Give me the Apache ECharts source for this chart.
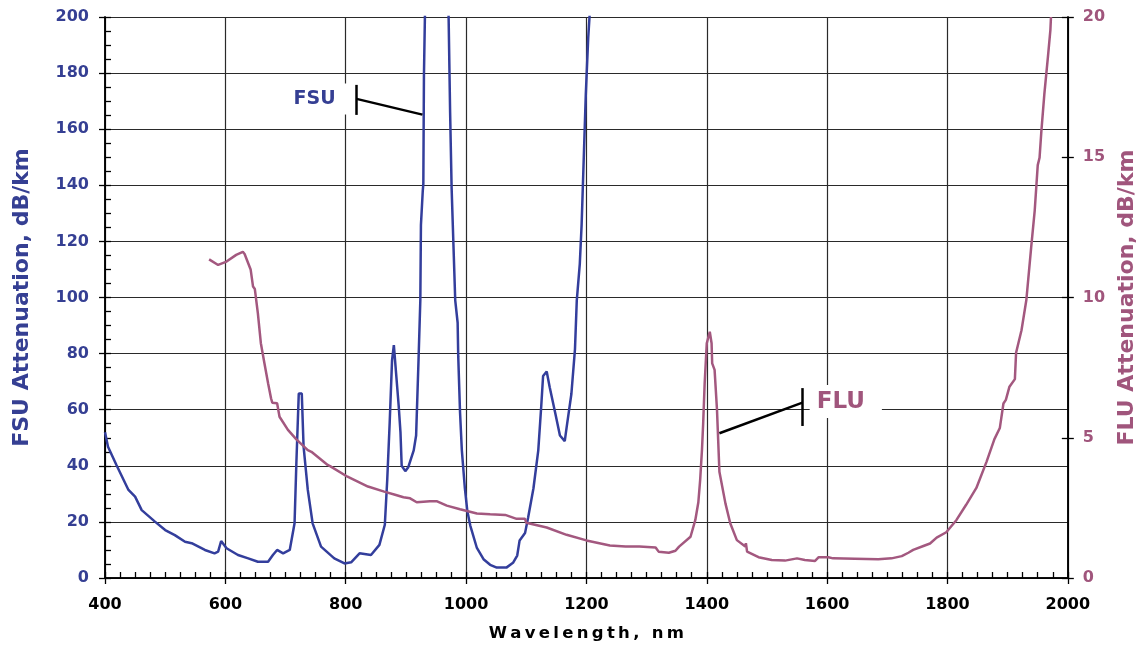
<!DOCTYPE html>
<html>
<head>
<meta charset="utf-8">
<script src="https://cdn.jsdelivr.net/npm/echarts@6/dist/echarts.min.js"></script>
<style>
html,body{margin:0;padding:0;background:#fff;}
#chart{width:1146px;height:651px;}
</style>
</head>
<body>
<div id="chart"></div>
<script>
// ---- Data ----
const xTickLabels = [400, 600, 800, 1000, 1200, 1400, 1600, 1800, 2000];
const fsuTicks = [0, 20, 40, 60, 80, 100, 120, 140, 160, 180, 200];
const fluTicks = [0, 5, 10, 15, 20];

// FSU fibre (left axis, dB/km)
const fsuWavelength = [400,405,419,439,450,461,483,500,516,533,544,566,582,588,593,602,621,638,654,671,679,686,696,707,715,718,722,727,730,737,745,759,781,798,809,823,842,856,865,869,873,877,880,882,888,891,893,899,904,913,917,921,924,925,928,929,930,932,951,971,973.5,976,979,982,986,987,990,993,998,1002,1007,1018,1029,1040,1051,1067,1078,1085,1089,1098,1103,1112,1120,1125,1128,1134,1139,1148,1156,1164,1167,1175,1181,1184,1189,1192,1196,1199,1203,1206];
const fsuAttenuation = [52,46.8,40.3,31.4,29,24.2,20.1,17.1,15.3,12.9,12.4,10,8.8,9.4,13.2,10.6,8.2,7,5.8,5.8,8.2,10,8.8,10,19.5,40.9,65.8,65.8,46.8,31.4,19.5,11.2,7,5.2,5.6,8.8,8.2,11.8,19,35,55,77.6,83,77.6,61.5,52,40,38.1,39.5,45.5,50.8,77.6,99,125.8,137.8,140.5,179,205,400,200,166,139,119,99,91,79,59,45.5,32,24,18.7,10.7,6.7,4.7,3.7,3.7,5.4,8,13.4,16,21.4,32,45.5,61.5,72,73.6,68,59,50.8,48.8,53.5,65.6,81.6,99,112,125.8,152.5,172.6,192.6,203];

// FLU fibre (right axis, dB/km)
const fluWavelength = [573,588,602,618,629,632,642,646,649,654,659,662,665,671,676,678,686,690,704,718,737,743,770,774,803,837,864,882,896,907,918,940,951,968,990,1018,1040,1065,1084,1098,1100,1134,1167,1200,1239,1265,1288,1315,1320,1337,1348,1354,1373,1381,1386,1389,1392,1394,1396.5,1400,1405,1408,1409,1413,1417,1421,1423,1431,1439,1450,1464,1465,1467,1486,1508,1530,1550,1563,1580,1586,1602,1610,1646,1685,1707,1724,1735,1743,1760,1771,1782,1798,1815,1831,1848,1865,1878,1887,1893,1897,1903,1912,1914,1923,1931,1939,1945,1950,1953,1956,1961,1967,1971,1972];
const fluAttenuation = [11.36,11.16,11.28,11.52,11.63,11.55,11.0,10.39,10.3,9.44,8.37,8.37,7.65,6.94,6.4,6.25,6.23,5.75,5.28,4.94,4.56,4.5,4.03,3.99,3.61,3.26,3.08,2.97,2.88,2.84,2.7,2.74,2.74,2.58,2.45,2.3,2.27,2.25,2.11,2.11,1.97,1.8,1.54,1.34,1.16,1.12,1.12,1.09,0.94,0.9,0.97,1.12,1.47,2.07,2.7,3.49,4.56,5.5,6.94,8.37,8.78,8.37,7.65,7.42,5.99,3.79,3.73,2.66,1.95,1.35,1.12,1.24,0.94,0.74,0.64,0.62,0.7,0.64,0.61,0.74,0.74,0.7,0.69,0.67,0.7,0.78,0.9,1.0,1.14,1.23,1.44,1.63,2.07,2.61,3.21,4.15,4.95,5.35,6.22,6.35,6.82,7.09,8.03,8.83,9.9,11.77,13.11,14.72,14.98,15.92,17.26,18.6,19.53,20.0];

// Annotation anchors (data coordinates)
const fsuLabelAt = [754, 170.8];
const fsuBracket = [[818, 175.8], [818, 165.1]];
const fsuLeader = [[818, 170.8], [927.5, 165.2]];
const fluLabelAt = [1631, 6.29];
const fluBracket = [[1559, 6.77], [1559, 5.42]];
const fluLeader = [[1559, 6.25], [1421, 5.16]];

const BLUE = '#333E9C';
const PINK = '#A3587F';
const BLUE_TXT = '#353F93';
const PINK_TXT = '#A0557C';
const FONT = '"DejaVu Sans", sans-serif';
const TS = '\u2009';

function zip(a, b) { return a.map((v, i) => [v, b[i]]); }
function spaced(s) { return s.split('').join(TS); }
const plain = v => String(v);

const chart = echarts.init(document.getElementById('chart'));

const gridLine = {show: true, lineStyle: {color: '#2a2a2a', width: 1.2}};
const tick = () => ({color: '#000', width: 1.3});

const option = {
  animation: false,
  backgroundColor: '#ffffff',
  grid: {left: 105, right: 76, top: 17, bottom: 73},
  xAxis: [
    {
      type: 'value', min: xTickLabels[0], max: xTickLabels[xTickLabels.length - 1], interval: 200,
      position: 'bottom',
      axisLine: {show: true, onZero: false, lineStyle: {color: '#000', width: 1.5}},
      axisTick: {show: true, inside: false, length: 6, lineStyle: tick()},
      axisLabel: {color: '#000', fontFamily: FONT, fontWeight: 'bold', fontSize: 16, margin: 19, formatter: plain},
      splitLine: gridLine,
      name: spaced('Wavelength, nm'), nameLocation: 'middle', nameGap: 47,
      nameTextStyle: {color: '#000', fontFamily: FONT, fontWeight: 'bold', fontSize: 16.5}
    },
    {
      type: 'value', min: 400, max: 2000, interval: 25, position: 'bottom',
      axisLine: {show: true, onZero: false, lineStyle: {color: '#000', width: 1.5}},
      axisLabel: {show: false}, splitLine: {show: false},
      axisTick: {show: true, inside: true, length: 6, lineStyle: tick()}
    }
  ],
  yAxis: [
    {
      type: 'value', min: fsuTicks[0], max: fsuTicks[fsuTicks.length - 1], interval: 20, position: 'left',
      axisLine: {show: true, onZero: false, lineStyle: {color: '#000', width: 1.5}},
      axisTick: {show: true, inside: false, length: 6, lineStyle: tick()},
      axisLabel: {color: BLUE_TXT, fontFamily: FONT, fontWeight: 'bold', fontSize: 16, margin: 16, formatter: plain},
      splitLine: gridLine,
      name: 'FSU Attenuation, dB/km', nameLocation: 'middle', nameGap: 72, nameRotate: 90,
      nameTextStyle: {color: BLUE_TXT, fontFamily: FONT, fontWeight: 'bold', fontSize: 22}
    },
    {
      type: 'value', min: fluTicks[0], max: fluTicks[fluTicks.length - 1], interval: 5, position: 'right',
      axisLine: {show: true, onZero: false, lineStyle: {color: '#000', width: 1.5}},
      axisTick: {show: true, inside: false, length: 6, lineStyle: tick()},
      axisLabel: {color: PINK_TXT, fontFamily: FONT, fontWeight: 'bold', fontSize: 16, margin: 15, formatter: plain},
      splitLine: {show: false},
      name: 'FLU Attenuation, dB/km', nameLocation: 'middle', nameGap: 44, nameRotate: 90,
      nameTextStyle: {color: PINK_TXT, fontFamily: FONT, fontWeight: 'bold', fontSize: 22}
    },
    {
      type: 'value', min: 0, max: 200, interval: 5, position: 'left',
      axisLine: {show: true, onZero: false, lineStyle: {color: '#000', width: 1.5}},
      axisLabel: {show: false}, splitLine: {show: false},
      axisTick: {show: true, inside: true, length: 6, lineStyle: tick()}
    },
    {
      type: 'value', min: 0, max: 20, interval: 5, position: 'right',
      axisLine: {show: true, onZero: false, lineStyle: {color: '#000', width: 1.5}},
      axisLabel: {show: false}, splitLine: {show: false},
      axisTick: {show: true, inside: true, length: 6, lineStyle: tick()}
    }
  ],
  series: [
    {
      name: 'FSU', type: 'line', xAxisIndex: 0, yAxisIndex: 0,
      data: zip(fsuWavelength, fsuAttenuation),
      showSymbol: false, symbol: 'none', clip: true,
      lineStyle: {color: BLUE, width: 2.5}, z: 3,
      markLine: {
        silent: true, symbol: ['none', 'none'], label: {show: false},
        lineStyle: {color: '#000', width: 2.5, type: 'solid'},
        data: [
          [{coord: fsuBracket[0]}, {coord: fsuBracket[1]}],
          [{coord: fsuLeader[0]}, {coord: fsuLeader[1]}]
        ]
      },
      markPoint: {
        silent: true, symbol: 'rect', symbolSize: 0,
        data: [{coord: fsuLabelAt, value: 'FSU'}],
        label: {
          show: true, position: 'inside', formatter: 'FSU',
          color: BLUE_TXT, fontFamily: FONT, fontWeight: 'bold', fontSize: 19,
          backgroundColor: '#fff', padding: [6, 13, 6, 6]
        }
      }
    },
    {
      name: 'FLU', type: 'line', xAxisIndex: 0, yAxisIndex: 1,
      data: zip(fluWavelength, fluAttenuation),
      showSymbol: false, symbol: 'none', clip: true,
      lineStyle: {color: PINK, width: 2.5}, z: 3,
      markLine: {
        silent: true, symbol: ['none', 'none'], label: {show: false},
        lineStyle: {color: '#000', width: 2.5, type: 'solid'},
        data: [
          [{coord: fluBracket[0]}, {coord: fluBracket[1]}],
          [{coord: fluLeader[0]}, {coord: fluLeader[1]}]
        ]
      },
      markPoint: {
        silent: true, symbol: 'rect', symbolSize: 0,
        data: [{coord: fluLabelAt, value: 'FLU'}],
        label: {
          show: true, position: 'inside', formatter: 'FLU',
          color: PINK_TXT, fontFamily: FONT, fontWeight: 'bold', fontSize: 23,
          backgroundColor: '#fff', padding: [5, 17, 5, 7]
        }
      }
    },
    {
      type: 'line', xAxisIndex: 1, yAxisIndex: 2, data: zip(fsuWavelength, fsuAttenuation),
      silent: true, showSymbol: false, symbol: 'none', lineStyle: {opacity: 0}, z: 0
    },
    {
      type: 'line', xAxisIndex: 0, yAxisIndex: 3, data: zip(fluWavelength, fluAttenuation),
      silent: true, showSymbol: false, symbol: 'none', lineStyle: {opacity: 0}, z: 0
    }
  ]
};
chart.setOption(option);
</script>
</body>
</html>
